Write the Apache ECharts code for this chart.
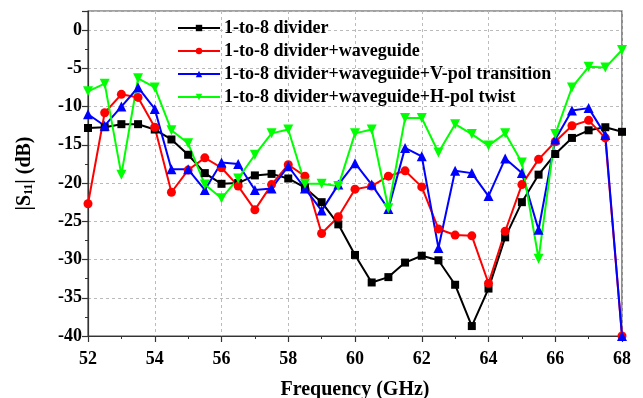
<!DOCTYPE html>
<html>
<head>
<meta charset="utf-8">
<script src="https://cdn.jsdelivr.net/npm/echarts@6/dist/echarts.min.js"></script>
<style>
  html, body { margin: 0; padding: 0; background: #fff; }
  #chart { width: 643px; height: 398px; }
</style>
</head>
<body>
<div id="chart"></div>
<script>
// Frequency points (GHz)
const freq = [52, 52.5, 53, 53.5, 54, 54.5, 55, 55.5, 56, 56.5, 57, 57.5, 58, 58.5, 59, 59.5,
              60, 60.5, 61, 61.5, 62, 62.5, 63, 63.5, 64, 64.5, 65, 65.5, 66, 66.5, 67, 67.5, 68];

// |S11| in dB for each configuration
const dividerOnly = [-12.8, -12.7, -12.3, -12.3, -13.0, -14.3, -16.3, -18.7, -20.1, -20.0, -19.0, -18.8, -19.4, -20.6, -22.5, -25.4,
                     -29.4, -33.0, -32.3, -30.4, -29.5, -30.1, -33.3, -38.7, -33.8, -27.1, -22.5, -18.9, -16.2, -14.1, -13.1, -12.7, -13.3];
const withWaveguide = [-22.7, -10.8, -8.4, -8.8, -12.7, -21.2, -18.3, -16.7, -18.0, -20.4, -23.5, -20.2, -17.6, -19.1, -26.6, -24.4,
                       -20.8, -20.4, -19.1, -18.4, -20.5, -26.0, -26.8, -26.9, -33.1, -26.3, -20.2, -16.9, -14.6, -12.5, -11.8, -14.1, -40.0];
const withVpol = [-11.0, -12.5, -10.0, -7.5, -10.3, -18.2, -18.2, -20.9, -17.3, -17.5, -20.9, -20.7, -17.8, -20.7, -23.6, -20.2,
                  -17.4, -20.2, -23.4, -15.4, -16.5, -28.5, -18.4, -18.7, -21.7, -16.8, -18.7, -26.1, -14.3, -10.5, -10.2, -13.7, -40.0];
const withHpol = [-8.0, -7.0, -18.9, -6.3, -7.5, -13.1, -14.8, -20.2, -22.0, -19.4, -16.3, -13.5, -13.0, -20.1, -20.1, -20.4,
                  -13.5, -13.0, -23.3, -11.5, -11.5, -16.0, -12.3, -13.6, -15.1, -13.5, -17.3, -29.9, -13.6, -7.5, -4.8, -4.9, -2.6];

const seriesNames = [
  '1-to-8 divider',
  '1-to-8 divider+waveguide',
  '1-to-8 divider+waveguide+V-pol transition',
  '1-to-8 divider+waveguide+H-pol twist'
];

const FONT = '"Liberation Serif", "Times New Roman", serif';

function pairs(vals) {
  return freq.map((f, i) => [f, vals[i]]);
}

function makeSeries(name, vals, color, symbol, size, rotate) {
  return {
    name: name,
    type: 'line',
    data: pairs(vals),
    symbol: symbol,
    symbolSize: size,
    symbolRotate: rotate || 0,
    showAllSymbol: true,
    clip: true,
    lineStyle: { color: color, width: 2 },
    itemStyle: { color: color },
    animation: false
  };
}

const chart = echarts.init(document.getElementById('chart'), null, { renderer: 'canvas' });

chart.setOption({
  backgroundColor: '#fff',
  animation: false,
  grid: {
    left: 88, right: 21, top: 11, bottom: 62,
    outerBoundsMode: 'none',
    containLabel: false,
    show: true, borderColor: '#444', borderWidth: 1.2, backgroundColor: 'transparent'
  },
  legend: {
    orient: 'vertical',
    left: 172, top: 14,
    itemWidth: 42, itemHeight: 8, itemGap: 5,
    textStyle: { fontFamily: FONT, fontWeight: 'bold', fontSize: 18, color: '#000', padding: [0, 0, 0, -1] },
    data: seriesNames
  },
  xAxis: {
    type: 'value',
    min: 52, max: 68, interval: 2,
    name: 'Frequency (GHz)',
    nameLocation: 'middle',
    nameGap: 44,
    nameTextStyle: { fontFamily: FONT, fontWeight: 'bold', fontSize: 20, color: '#000' },
    axisLine: { show: true, onZero: false, lineStyle: { color: '#333', width: 1.2 } },
    axisTick: { show: true, inside: false, length: 6, lineStyle: { color: '#333', width: 1.2 } },
    minorTick: { show: true, splitNumber: 2, length: 3, lineStyle: { color: '#333', width: 1 } },
    axisLabel: { fontFamily: FONT, fontWeight: 'bold', fontSize: 18, color: '#000', margin: 14 },
    splitLine: { show: true, lineStyle: { color: '#bbb', type: [3, 3], width: 1 } }
  },
  yAxis: {
    type: 'value',
    min: -40, max: 2.5, interval: 5,
    name: '|S{sub|11}| (dB)',
    nameLocation: 'middle',
    nameGap: 53,
    nameRotate: 90,
    nameTextStyle: {
      fontFamily: FONT, fontWeight: 'bold', fontSize: 20, color: '#000',
      rich: {
        sub: { fontFamily: FONT, fontWeight: 'bold', fontSize: 12, color: '#000', verticalAlign: 'bottom', padding: [9, 0, 0, 0] }
      }
    },
    axisLine: { show: true, lineStyle: { color: '#333', width: 1.2 } },
    axisTick: { show: true, inside: false, length: 6, lineStyle: { color: '#333', width: 1.2 } },
    minorTick: { show: true, splitNumber: 2, length: 3, lineStyle: { color: '#333', width: 1 } },
    axisLabel: { fontFamily: FONT, fontWeight: 'bold', fontSize: 18, color: '#000', margin: 6, showMaxLabel: false },
    splitLine: { show: true, lineStyle: { color: '#bbb', type: [3, 3], width: 1 } }
  },
  series: [
    makeSeries(seriesNames[0], dividerOnly, '#000000', 'rect', 8),
    makeSeries(seriesNames[1], withWaveguide, '#ff0000', 'circle', 9),
    makeSeries(seriesNames[2], withVpol, '#0000ff', 'triangle', 10),
    makeSeries(seriesNames[3], withHpol, '#00ff00', 'triangle', 10, 180)
  ]
});
</script>
</body>
</html>
